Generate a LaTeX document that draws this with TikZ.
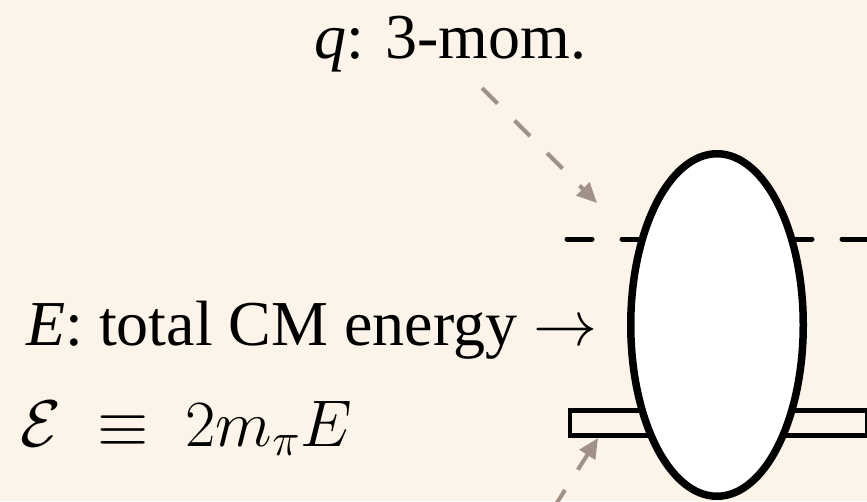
\RequirePackage{fix-cm}
\documentclass[tikz,border=0pt]{standalone}
\usepackage{fontspec}
\setmainfont{Liberation Serif}
\usetikzlibrary{arrows.meta,shapes.geometric}
\definecolor{bgcream}{RGB}{252,243,233}
\definecolor{arrowgray}{RGB}{160,146,136}
\tikzset{
  pointer/.style={draw=arrowgray, line width=4pt, dash pattern=on 22pt off 24pt,
    -{Triangle[length=20pt,width=18pt,fill=arrowgray]}},
  blobshape/.style={draw, ellipse, fill=white, line width=7.5pt, inner sep=0pt,
    minimum width=172.5pt, minimum height=342.5pt},
  bigtext/.style={inner sep=0pt, anchor=base west, font=\fontsize{64}{70}\selectfont},
  mathtext/.style={inner sep=0pt, anchor=base west, font=\fontsize{66}{72}\selectfont},
}
\begin{document}
\begin{tikzpicture}[x=1pt,y=-1pt]
\fill[bgcream] (0,0) rectangle (867,501);
\useasboundingbox (0,0) rectangle (867,501);
% lines behind blob
\coordinate (dl) at (567,239);
\coordinate (dr) at (880,239);
\draw[line width=5pt, line cap=round, dash pattern=on 25pt off 30pt] (dl) -- (dr);
\node[draw, line width=4.5pt, inner sep=0pt, minimum width=297pt, minimum height=25pt, anchor=north west] (bar) at (567.5,408) {};
% blob
\node[blobshape] (blob) at (717,325) {};
% labels
\node[bigtext] (qlab) at (314,58) {\textit{q}: 3-mom.};
\node[bigtext] (elab) at (26,345) {\textit{E}: total CM energy $\rightarrow$};
\node[mathtext] (epslab) at (20,446) {$\mathcal{E}\;\equiv\;2m_\pi E$};
% pointers
\coordinate (qs) at (482,88);
\coordinate (qt) at (597,203);
\coordinate (bs) at (553.2,508.6);
\coordinate (bt) at (598,438);
\draw[pointer] (qs) -- (qt);
\draw[pointer] (bs) -- (bt);
\end{tikzpicture}
\end{document}
